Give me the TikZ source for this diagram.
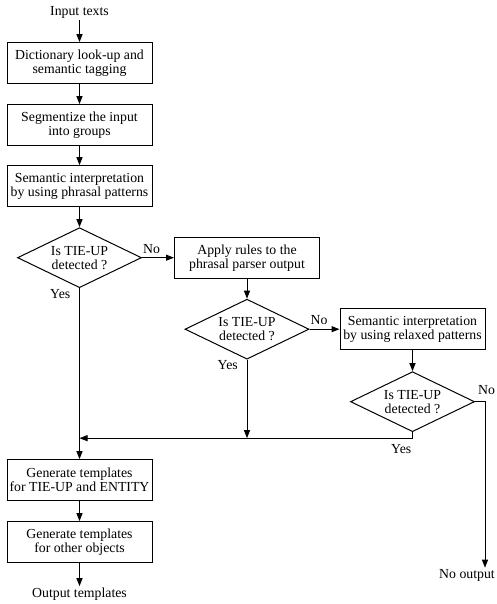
\documentclass[tikz,border=0pt]{standalone}
\usepackage{fontspec}
\setmainfont{Liberation Serif}
\usepackage{tikz}
\usetikzlibrary{positioning,shapes.geometric,arrows.meta}

\begin{document}
\begin{tikzpicture}[
        node distance=20pt and 30pt,
        box/.style={rectangle, draw, line width=1pt, minimum width=145pt,
                     minimum height=41pt, inner sep=1pt, align=center,
                     font=\fontsize{13.8pt}{14pt}\selectfont},
        decision/.style={diamond, draw, line width=1pt, aspect=2, inner sep=0pt,
                     minimum width=124pt, minimum height=60pt, align=center,
                     font=\fontsize{13.8pt}{14pt}\selectfont},
        txt/.style={inner sep=2pt, font=\fontsize{13.8pt}{14pt}\selectfont},
        lbl/.style={inner sep=1pt, font=\fontsize{13.8pt}{14pt}\selectfont},
        arrow/.style={-{Triangle[length=8pt,width=6pt]}, line width=1pt},
        line/.style={line width=1pt}
    ]
        \useasboundingbox (0,0) rectangle (496pt,-604pt);

        \node[txt] (input) at (79.5pt,-12pt) {Input texts};
        \node[box, below=22pt of input] (dict) {Dictionary look-up and\\semantic tagging};
        \node[box, below=of dict] (segm) {Segmentize the input\\into groups};
        \node[box, below=19pt of segm] (phrasal) {Semantic interpretation\\by using phrasal patterns};
        \node[decision, below=of phrasal] (test1) {Is TIE-UP\\detected ?};
        \node[box, right=32pt of test1] (rules) {Apply rules to the\\phrasal parser output};
        \node[decision, below=of rules] (test2) {Is TIE-UP\\detected ?};
        \node[box, right=of test2] (relaxed) {Semantic interpretation\\by using relaxed patterns};
        \node[decision, below=21pt of relaxed] (test3) {Is TIE-UP\\detected ?};
        \coordinate[below=150pt of test1.south] (join);
        \coordinate[right=10pt of test3.east] (noturn);
        \node[box, below=21pt of join] (gen1) {Generate templates\\for TIE-UP and ENTITY};
        \node[box, below=of gen1] (gen2) {Generate templates\\for other objects};
        \node[txt, below=23pt of gen2] (output) {Output templates};
        \node[txt, below=166pt of noturn, xshift=-18pt] (noout) {No output};

        % yes / no labels
        \node[lbl, anchor=south west, yshift=3pt] at (test1.east) {No};
        \node[lbl, anchor=south west, yshift=3pt] at (test2.east) {No};
        \node[lbl, anchor=south west, xshift=2pt, yshift=6pt] at (test3.east) {No};
        \node[lbl, anchor=north east, xshift=-8pt] at (test1.south) {Yes};
        \node[lbl, anchor=north east, xshift=-8pt] at (test2.south) {Yes};
        \node[lbl, anchor=north east, yshift=-5pt] at (test3.south |- join) {Yes};

        \draw[arrow] (input) -- (dict);
        \draw[arrow] (dict) -- (segm);
        \draw[arrow] (segm) -- (phrasal);
        \draw[arrow] (phrasal) -- (test1);
        \draw[arrow] (test1) -- (rules);
        \draw[arrow] (rules) -- (test2);
        \draw[arrow] (test2) -- (relaxed);
        \draw[arrow] (relaxed) -- (test3);
        \draw[arrow] (test1) -- (gen1);
        \draw[arrow] (test2) -- (test2 |- join);
        \draw[arrow] (test3.south) -- (test3.south |- join) -- (join);
        \draw[arrow] (test3.east) -- (noturn) -- (noturn |- noout.north);
        \draw[arrow] (gen1) -- (gen2);
        \draw[arrow] (gen2) -- (output);
    \end{tikzpicture}
\end{document}
